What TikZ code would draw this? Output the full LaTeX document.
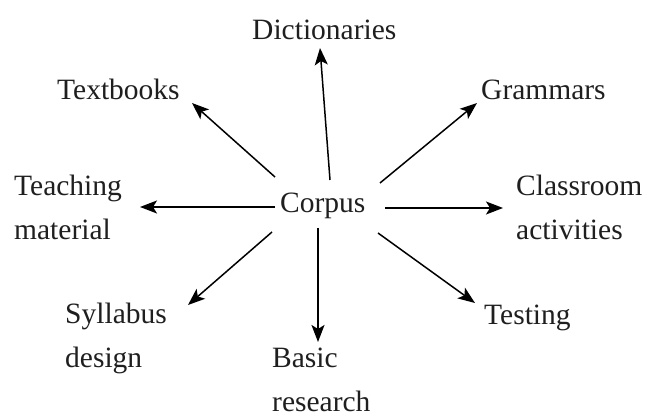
\documentclass[tikz,border=0pt]{standalone}
\usepackage{fontspec}
\setmainfont{Liberation Serif}
\usetikzlibrary{arrows.meta}
\begin{document}
\begin{tikzpicture}[x=1pt,y=-1pt,
  lbl/.style={anchor=base west,inner sep=0pt,align=left,text=black!88,
    font=\fontsize{29.5}{44}\selectfont},
  arr/.style={line width=1.5pt,-{Stealth[length=17pt,width=13pt,inset=4pt]}}]
\useasboundingbox[fill=white] (0,0) rectangle (646,419);
\node[lbl] (dict) at (252,40) {Dictionaries};
\node[lbl] (text) at (57,100) {Textbooks};
\node[lbl] (gram) at (481,100) {Grammars};
\node[lbl] (teach) at (14,240) {Teaching\\material};
\node[lbl] (corpus) at (280,213) {Corpus};
\node[lbl] (class) at (516,240) {Classroom\\activities};
\node[lbl] (syl) at (65,368) {Syllabus\\design};
\node[lbl] (basic) at (272,412) {Basic\\research};
\node[lbl] (test) at (484,325) {Testing};
% arrow ends
\coordinate (s1) at (330,180); \coordinate (e1) at (320,48);
\coordinate (s2) at (275,177); \coordinate (e2) at (192,103);
\coordinate (s3) at (380,183); \coordinate (e3) at (477,103);
\coordinate (s4) at (275,207); \coordinate (e4) at (140,207);
\coordinate (s5) at (385,208); \coordinate (e5) at (503,208);
\coordinate (s6) at (272,232); \coordinate (e6) at (188,305);
\coordinate (s7) at (318,228); \coordinate (e7) at (318,342);
\coordinate (s8) at (378,233); \coordinate (e8) at (475,303);
\foreach \i in {1,...,8} \draw[arr] (s\i) -- (e\i);
\end{tikzpicture}
\end{document}
